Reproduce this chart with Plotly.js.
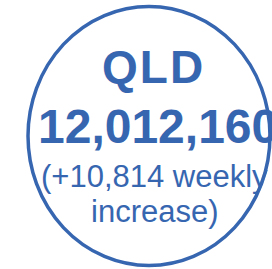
<!DOCTYPE html>
<html>
<head>
<meta charset="utf-8">
<script src="https://cdn.plot.ly/plotly-3.0.1.min.js"></script>
<style>html,body{margin:0;padding:0;background:#fff;}#chart{width:272px;height:269px;}</style>
</head>
<body>
<div id="chart"></div>
<script>
// Data
const stateLabel = ["QLD"];
const totalValue = [12012160];
const weeklyIncrease = [10814];
const weeklyLabel = ["weekly", "increase)"];

const blue = "#3766b1";
const fmt = v => v.toLocaleString("en-US");

const layout = {
  width: 272, height: 269,
  margin: {l: 0, r: 0, t: 0, b: 0},
  paper_bgcolor: "#ffffff", plot_bgcolor: "#ffffff",
  showlegend: false,
  xaxis: {range: [0, 272], visible: false, fixedrange: true},
  yaxis: {range: [269, 0], visible: false, fixedrange: true},
  shapes: [{
    type: "circle", xref: "x", yref: "y",
    x0: 28, x1: 270, y0: 6.5, y1: 265.5,
    line: {color: blue, width: 3.5}, fillcolor: "rgba(0,0,0,0)", layer: "above"
  }],
  annotations: [
    {x: 153, y: 66.5, xref: "x", yref: "y", xanchor: "center", yanchor: "middle", showarrow: false,
     text: "<b><span style=\"letter-spacing:2px\">" + stateLabel[0] + "</span></b>",
     font: {family: "Liberation Sans, Arial, sans-serif", size: 46, color: blue}},
    {x: 158, y: 126, xref: "x", yref: "y", xanchor: "center", yanchor: "middle", showarrow: false,
     text: "<b>" + fmt(totalValue[0]) + "</b>",
     font: {family: "Liberation Sans, Arial, sans-serif", size: 48, color: blue}},
    {x: 154, y: 176, xref: "x", yref: "y", xanchor: "center", yanchor: "middle", showarrow: false,
     text: "(+" + fmt(weeklyIncrease[0]) + " " + weeklyLabel[0],
     font: {family: "Liberation Sans, Arial, sans-serif", size: 31, color: blue}},
    {x: 155, y: 211, xref: "x", yref: "y", xanchor: "center", yanchor: "middle", showarrow: false,
     text: weeklyLabel[1],
     font: {family: "Liberation Sans, Arial, sans-serif", size: 31, color: blue}}
  ]
};

Plotly.newPlot("chart", [{x: [], y: [], type: "scatter"}], layout, {displayModeBar: false, staticPlot: true});
</script>
</body>
</html>
